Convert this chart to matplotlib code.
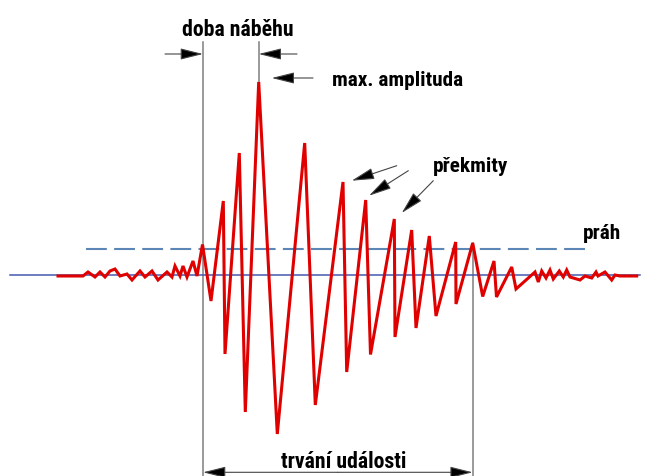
import matplotlib
matplotlib.use("Agg")
import matplotlib.pyplot as plt
from matplotlib import font_manager as fm

# ---------------- data ----------------
time = [58, 83, 88, 95, 100, 105, 110, 115, 120, 127, 132, 140, 145, 152, 158,
        167, 172, 175, 180, 183, 187, 193, 197, 202.5, 211, 223.3, 225, 239.3,
        245.3, 258.7, 277.3, 304.7, 315.3, 343, 346.7, 365.7, 370.5, 394.3, 395,
        411.7, 416, 429.3, 436, 455.7, 456, 472.7, 482.7, 494, 496.5, 511.7, 516,
        535, 538.3, 541.7, 546, 550, 553.3, 559.3, 563.3, 566.7, 570, 580, 585,
        591.7, 596, 598, 605, 611.7, 615, 620, 636.7]
amplitude = [-1, -1, 3, -2, 3, -2, 4, 6, -1, 1, -5, 4, -2, 4, -5,
             3, -2, 9, -1, 9, -2, 14, -1, 30.5, -26, 74, -79, 122,
             -137, 193, -159, 132, -130, 93, -97, 75, -79.5, 56, -62,
             45, -53, 39, -41, 33, -29, 32, -21.5, 14, -22, 8, -14,
             3, -7, 4, -3, 5, -4, 4, -2, 5, -2, -5, -1,
             -3, 3, -1, 3, -5, 0, -1, -1]

threshold = 26
rise_start = 203
peak_time = 258.7
event_end = 472.7
peak_amp = 193

labels = {
    "rise": "doba náběhu",
    "max": "max. amplituda",
    "over": "překmity",
    "thr": "práh",
    "dur": "trvání události",
}

# ---------------- font: prefer a condensed bold sans ----------------
fp = None
names = {f.name for f in fm.fontManager.ttflist}
for cand in ["Liberation Sans Narrow", "Roboto Condensed", "Open Sans Condensed"]:
    if cand in names:
        fp = fm.FontProperties(family=cand, weight="bold")
        break
if fp is None:
    for f in fm.fontManager.ttflist:
        if "condensed" in f.fname.lower() and "bold" in f.fname.lower() \
                and "semi" not in f.fname.lower() and "extra" not in f.fname.lower() \
                and ("NotoSans-" in f.fname or "OpenSans" in f.fname or "Roboto" in f.fname):
            fp = fm.FontProperties(fname=f.fname)
            break
if fp is None:
    fp = fm.FontProperties(family="Liberation Sans", weight="bold")
condensed = fp.get_file() is not None or fp.get_family()[0] != "Liberation Sans"


def label(x, y, s, size, ha):
    p = fp.copy()
    p.set_size(size)
    ax.text(x, y, s, ha=ha, va="baseline", fontproperties=p, color="black")


fig = plt.figure(figsize=(6.52, 4.77), dpi=100)
ax = fig.add_axes([0, 0, 1, 1])
ax.set_xlim(0, 652)
ax.set_ylim(-201, 276)
ax.axis("off")

ax.plot([10, 640], [0, 0], color="#4458b0", lw=1.1, zorder=2)
ax.plot([86, 592], [threshold, threshold], color="#5b86b6", lw=1.5,
        dashes=(10, 3.5), zorder=2)

gray = "#7f7f7f"
ax.plot([rise_start, rise_start], [233, -201], color=gray, lw=1.1, zorder=1)
ax.plot([peak_time, peak_time], [233, peak_amp], color=gray, lw=1.1, zorder=1)
ax.plot([event_end, event_end], [32, -201], color=gray, lw=1.1, zorder=1)

ax.plot(time, amplitude, color="#e00000", lw=2.2, solid_joinstyle="miter",
        zorder=3)


def arrow(tip, tail, style="-|>", lw=0.8):
    ax.annotate("", xy=tip, xytext=tail,
                arrowprops=dict(arrowstyle=style + ",head_length=1.4,head_width=0.35",
                                mutation_scale=10, lw=lw,
                                shrinkA=0, shrinkB=0, ec="#444444", fc="black"),
                zorder=4)


s_a = 15.7 if condensed else 13
s_b = 15.3 if condensed else 13

arrow((rise_start, 221), (165, 221))
arrow((peak_time, 221), (297, 221))
label(237.5, 239.5, labels["rise"], s_a, "center")

arrow((271.7, 197), (313, 197))
label(331.7, 190, labels["max"], s_b, "left")

arrow((351.7, 276 - 181.7), (396.7, 276 - 166.7))
arrow((369, 276 - 196.7), (408.3, 276 - 171.7))
arrow((401.7, 276 - 214), (433.3, 276 - 181.7))
label(432.7, 276 - 171.7, labels["over"], s_b, "left")

label(583, 276 - 239.5, labels["thr"], s_b, "left")

mid = (rise_start + event_end) / 2
arrow((rise_start, -197.3), (mid, -197.3))
arrow((event_end, -197.3), (mid, -197.3))
label(344, 276 - 468.3, labels["dur"], s_a, "center")

fig.savefig("out.png", dpi=100)
